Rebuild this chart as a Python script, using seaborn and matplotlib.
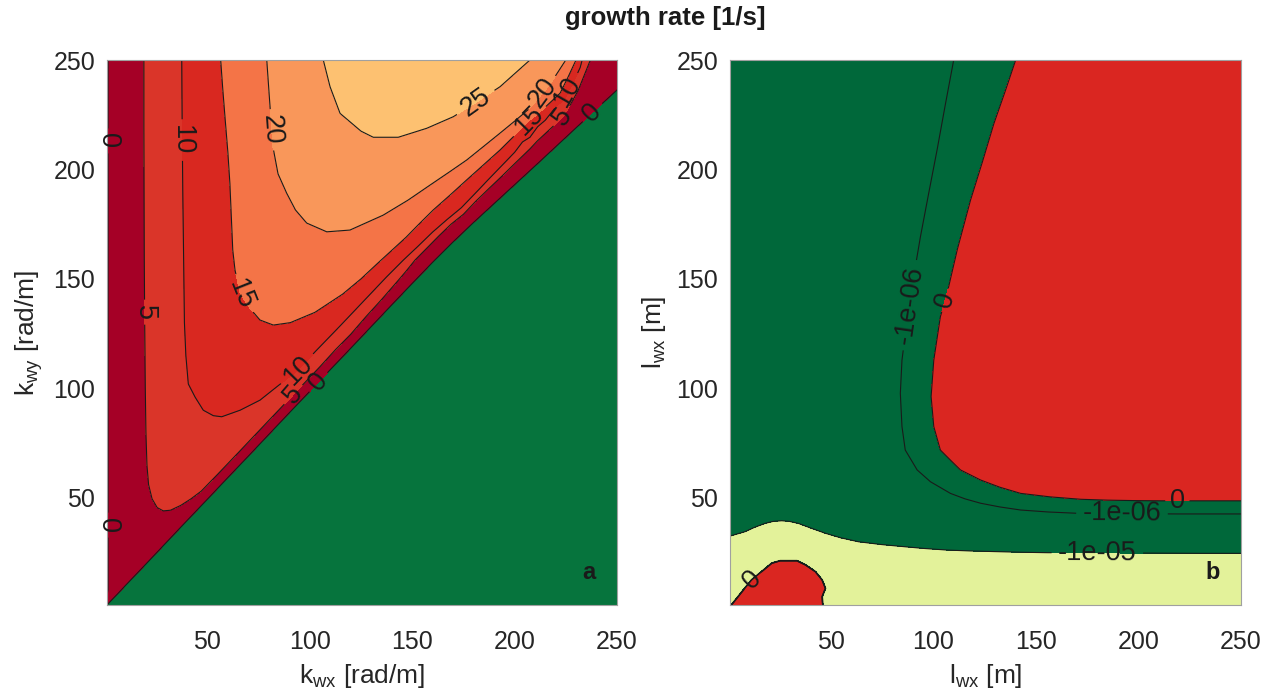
import numpy as np
import matplotlib
matplotlib.use("Agg")
import matplotlib.pyplot as plt
import matplotlib.tri as mtri
import seaborn as sns

# ---------------- panel a : growth rate [1/s] over (k_wx, k_wy) ----------------
# field samples: points lying on each labelled contour
a_levels = [0, 5, 10, 15, 20, 25]
a_colors = ["#06743d", "#a50026", "#da3529", "#d92820", "#f47447", "#f9975a", "#fdc171"]

a0_edge_kwx = [1.5] * 14
a0_edge_kwy = [3, 8, 25, 45, 65, 85, 105, 125, 145, 165, 185, 205, 225, 250]
a0_diag_kwx = [0, 3, 6, 10, 20, 30, 40, 50, 60, 70, 80, 90, 100, 110, 120, 130, 140, 150,
               160, 170, 180, 190, 200, 210, 220, 230, 240, 250, 265, 280]
a0_diag_kwy = [0.0, 3.0, 5.9, 9.9, 19.7, 29.6, 39.5, 49.3, 59.2, 69.0, 78.9, 88.8, 98.6,
               108.5, 118.3, 128.2, 138.1, 147.9, 157.6, 166.9, 175.8, 184.4, 193.0, 201.6,
               210.3, 219.0, 227.7, 236.3, 249.3, 262.3]
a5_kwx = [19.0, 19.0, 19.1, 19.2, 19.4, 19.7, 20.0, 20.5, 21.3, 23.0, 25.5, 28.5, 32.0,
          37.0, 42.0, 47.0, 55.0, 65.0, 72.5, 80.0, 86.0, 92.0, 98.5, 105.0, 112.5, 120.0,
          127.5, 135.0, 143.0, 147.0, 151.4, 157.0, 163.0, 169.0, 175.0, 181.0, 187.5,
          194.0, 200.0, 207.5, 211.0, 215.0, 219.5, 223.7, 227.5, 231.0, 234.0, 237.0]
a5_kwy = [250, 220, 190, 160, 130, 100, 80, 65, 56, 49.5, 45.5, 44.0, 44.3, 46.5, 49.5,
          53.0, 60.7, 70.5, 77.9, 85.3, 91.2, 97.1, 103.5, 109.9, 117.6, 124.7, 132.8,
          140.5, 149.1, 153.5, 158.6, 163.9, 169.6, 175.0, 179.5, 185.4, 191.3, 197.1,
          202.6, 209.4, 212.9, 216.4, 220.3, 224.0, 230.0, 236.0, 243.0, 250.0]
a10_kwx = [37.5, 37.7, 38.0, 38.4, 38.8, 39.5, 40.7, 44.0, 48.0, 52.9, 57.0, 66.0, 75.7,
           83.9, 94.4, 102.6, 115.0, 122.5, 130.0, 137.5, 145.7, 152.5, 160.0, 167.0,
           174.0, 180.5, 187.0, 193.5, 200.0, 207.5, 215.0, 220.5, 226.0, 233.0]
a10_kwy = [250, 220, 190, 160, 130, 115, 102, 96, 90, 87.5, 87.0, 90.0, 94.6, 100.7,
           108.4, 116.7, 128.7, 136.1, 143.5, 150.9, 158.6, 164.6, 171.4, 177.1, 182.5,
           188.8, 195.2, 201.5, 207.8, 214.7, 222.5, 229.0, 235.5, 250]
a15_kwx = [56.5, 57.5, 58.6, 60.0, 61.0, 62.4, 63.5, 66.0, 70.8, 75.7, 82.2, 90.5, 102.5,
           116.0, 125.0, 133.0, 140.0, 147.0, 153.5, 160.3, 168.5, 176.6, 184.7, 192.9,
           200.2, 207.5, 215.0, 222.2, 226.0, 230.0]
a15_kwy = [250, 237, 224, 208, 193.6, 163.2, 154.0, 143.5, 136.5, 131.2, 128.9, 130.0,
           134.7, 143.0, 150.0, 157.0, 163.0, 169.0, 175.2, 181.5, 188.3, 195.2, 202.0,
           208.9, 215.7, 222.6, 228.5, 234.8, 242.0, 250]
a20_kwx = [79.0, 80.5, 82.0, 84.5, 88.7, 93.0, 98.5, 108.3, 119.6, 135.8, 148.0, 160.2,
           168.4, 176.6, 184.7, 192.9, 200.2, 207.5, 212.0, 217.0, 225.0]
a20_kwy = [250, 230, 210.4, 198.0, 189.2, 181.5, 175.5, 171.5, 172.3, 179.1, 186.0, 193.8,
           199.0, 204.3, 210.4, 216.6, 222.2, 228.0, 233.0, 238.5, 250]
a25_kwx = [106.6, 109.9, 114.8, 119.6, 125.0, 131.0, 143.2, 157.1, 170.1, 181.0, 192.9, 207.5]
a25_kwy = [250, 237.8, 225.6, 221.8, 217.5, 214.7, 214.7, 218.8, 224.1, 230.5, 237.8, 250]
# a few samples inside bands (peak, top-right wedge, stable region, outside left edge)
a_peak_kwx, a_peak_kwy, a_peak_val = [140, 150, 175], [235, 250, 245], 27.0
a_wedge_kwx, a_wedge_kwy, a_wedge_val = [250], [250], 2.2
a_neg_kwx = [8, 18, 30, 60, 90, 120, 150, 180, 210, 240, 270, 10, 80, 160, 240, 275, 275,
             275, 290, 295]
a_neg_kwy = [1.5, 4, 5, 33, 62, 91, 120, 147, 173, 199, 225, -5, -5, -5, -5, -5, 80, 160,
             250, 265]
a_neg_val = -8.0
a_out_kwx = [-6, -6, -6, -6, -6, -6]
a_out_kwy = [-6, 40, 90, 140, 190, 255]
a_out_val = -2.0

# label anchor points (where the reference prints the contour labels)
a_label_xy = [(1.5, 213), (1.5, 37.5), (18.6, 134.8), (35.7, 213.4), (65.9, 142.6),
              (79.6, 218), (180.7, 231), (211.5, 236.3), (206.6, 222.6), (226, 235.5),
              (223.7, 224), (238, 226), (94.4, 108.4), (92, 97.1), (104.2, 102.8)]

# ---------------- panel b : growth rate [1/s] over (l_wx, l_wy) ----------------
b_levels = [-1e-05, -1e-06, 0]
b_colors = ["#e3f29a", "#00683a", "#00683a", "#da2621"]

b0_lwx = [144, 140.2, 135, 129.6, 124, 118.2, 111.7, 106.8, 103.5, 100.3, 99.0, 100.3,
          103.5, 108.4, 113.3, 123.1, 132.5, 142.6, 157, 171.9, 185, 198, 211, 224, 237,
          250.5, 258]
b0_lwy = [262, 250, 235.5, 221, 203.5, 186, 163.2, 143.4, 132.7, 112.9, 96.2, 82.5, 71.8,
          67.2, 62.7, 58.1, 54.8, 52.0, 50.4, 49.3, 48.9, 48.7, 48.6, 48.6, 48.6, 48.6, 48.6]
b6_lwx = [112.5, 110, 106, 101.9, 97.8, 93.8, 88.5, 84.8, 84.0, 84.8, 86.4, 92.2, 98.7,
          108.4, 115.5, 123.1, 132.5, 142.6, 156, 170.3, 183, 195, 207, 219.1, 231, 243, 258]
b6_lwy = [262, 250, 230, 208.9, 189, 169.3, 140, 112.9, 97.7, 82.5, 71.8, 62.7, 57.3, 52.0,
          49.5, 47.5, 45.8, 44.4, 43.5, 42.9, 42.75, 42.7, 42.65, 42.6, 42.6, 42.6, 42.6]
b5_lwx = [-5, 1, 8.3, 13, 18.1, 22, 26.2, 30, 34.3, 40, 47.4, 55, 63.6, 75, 86.4, 96,
          106.8, 118, 130, 143, 155.6, 168, 180, 192, 205, 218, 230, 244, 258]
b5_lwy = [30.5, 32.5, 34.5, 36.5, 38.3, 39.2, 39.5, 39.2, 38.3, 36.3, 33.8, 31.7, 29.9,
          28.6, 27.6, 26.8, 26.1, 25.7, 25.4, 25.1, 24.9, 24.85, 24.8, 24.75, 24.7, 24.65,
          24.6, 24.6, 24.6]
b_blob_lwx = [0.9, 1.8, 6.5, 11.6, 16.5, 21.4, 25.4, 33.6, 37.6, 42.5, 45.8, 47.4, 45.8, 46.1, 46.1]
b_blob_lwy = [0.0, 1.0, 6.5, 12.4, 16.2, 20.0, 21.1, 21.1, 19.3, 16.2, 12.4, 8.6, 4.8, 1.0, 0.0]
b_ring_lwx = [0.2, 1.2, 5.9, 11.0, 16.0, 21.0, 25.4, 33.8, 38.1, 43.1, 46.5, 48.2, 46.6, 46.9, 46.9]
b_ring_lwy = [0.6, 1.5, 7.1, 13.0, 16.8, 20.7, 21.9, 21.9, 19.9, 16.7, 12.7, 8.6, 4.8, 1.0, 0.0]
b_ring_val = -3e-05
b_in_lwx, b_in_lwy, b_in_val = [12, 25, 25, 38, 28, 38], [4, 0, 8, 6, 15, 14], 1e-05
b_light_lwx = [-3, -5, 0, 10, 25, 55, 60, 60, 80, 100, 120, 150, 200, 258, 258, 200]
b_light_lwy = [0, 12, 20, 26, 30, 18, 0, 10, 8, 8, 0, 8, 8, 8, 0, 0]
b_light_val = -3e-05
b_dark_lwx = [-5, -5, -5, -5, 40, 80, 30, 50, 25, 60]
b_dark_lwy = [45, 100, 180, 262, 262, 262, 160, 80, 55, 50]
b_dark_val = -5e-06
b_red_lwx = [150, 200, 258, 258, 258, 200, 160, 130, 200, 140, 125, 165, 230]
b_red_lwy = [262, 262, 262, 180, 100, 200, 130, 90, 90, 190, 120, 80, 75]
b_red_val = 1e-05

b_label_xy = [(88.5, 138), (107, 140), (192, 42.7), (219, 48.6), (180, 24.8), (12.3, 11.8)]


def stack(groups):
    xs, ys, zs = [], [], []
    for x, y, v in groups:
        xs += list(x)
        ys += list(y)
        zs += [v] * len(x)
    return np.array(xs, float), np.array(ys, float), np.array(zs, float)


sns.set_theme(style="white")
plt.rcParams["font.family"] = ["Liberation Sans", "DejaVu Sans"]
plt.rcParams["mathtext.default"] = "regular"

fig = plt.figure(figsize=(12.8, 6.98), dpi=100)
axa = fig.add_axes([107 / 1280, 1 - 605 / 698, 510 / 1280, 545 / 698])
axb = fig.add_axes([730 / 1280, 1 - 605 / 698, 511 / 1280, 545 / 698])

# panel a
xa, ya, za = stack([
    (a0_edge_kwx, a0_edge_kwy, 0), (a0_diag_kwx, a0_diag_kwy, 0),
    (a5_kwx, a5_kwy, 5), (a10_kwx, a10_kwy, 10), (a15_kwx, a15_kwy, 15),
    (a20_kwx, a20_kwy, 20), (a25_kwx, a25_kwy, 25),
    (a_peak_kwx, a_peak_kwy, a_peak_val), (a_wedge_kwx, a_wedge_kwy, a_wedge_val),
    (a_neg_kwx, a_neg_kwy, a_neg_val), (a_out_kwx, a_out_kwy, a_out_val)])
tria = mtri.Triangulation(xa, ya)
eps = 1e-9
axa.tricontourf(tria, za, levels=[-100] + [l - eps for l in a_levels] + [100],
                colors=a_colors)
csa = axa.tricontour(tria, za, levels=a_levels, colors="k", linewidths=0.8,
                     linestyles="solid")
la = axa.clabel(csa, manual=a_label_xy, inline=True, inline_spacing=4, fontsize=19.5, fmt="%g")

# panel b
xb, yb, zb = stack([
    (b0_lwx, b0_lwy, 0.0), (b6_lwx, b6_lwy, -1e-06), (b5_lwx, b5_lwy, -1e-05),
    (b_blob_lwx, b_blob_lwy, 0.0), (b_ring_lwx, b_ring_lwy, b_ring_val),
    (b_in_lwx, b_in_lwy, b_in_val), (b_light_lwx, b_light_lwy, b_light_val),
    (b_dark_lwx, b_dark_lwy, b_dark_val), (b_red_lwx, b_red_lwy, b_red_val)])
trib = mtri.Triangulation(xb, yb)
d = 1e-12
axb.tricontourf(trib, zb, levels=[-1] + [l - d for l in b_levels] + [1], colors=b_colors)
csb = axb.tricontour(trib, zb, levels=b_levels, colors="k", linewidths=0.8,
                     linestyles="solid")
lb = axb.clabel(csb, manual=b_label_xy, inline=True, inline_spacing=4, fontsize=19.5, fmt="%g")

for t in list(la) + list(lb):
    t.set_clip_on(False)

for ax, letter in [(axa, "a"), (axb, "b")]:
    ax.set_xlim(1, 250)
    ax.set_ylim(1, 250)
    ax.set_xticks([50, 100, 150, 200, 250])
    ax.set_yticks([50, 100, 150, 200, 250])
    ax.tick_params(direction="in", length=5, width=0.8, color="#a0a0a0",
                   labelcolor="#262626", labelsize=18)
    ax.tick_params(axis="x", pad=18)
    ax.tick_params(axis="y", pad=8.5)
    for s in ax.spines.values():
        s.set_color("#a0a0a0")
        s.set_linewidth(0.8)
    ax.text(0.945, 0.06, letter, transform=ax.transAxes, fontsize=17,
            fontweight="bold", ha="center", va="center", color="k")

axa.set_xlabel(r"$k_{wx}$ [rad/m]", fontsize=19, color="#262626", labelpad=6)
axa.set_ylabel(r"$k_{wy}$ [rad/m]", fontsize=19, color="#262626", labelpad=6)
axb.set_xlabel(r"$l_{wx}$ [m]", fontsize=19, color="#262626", labelpad=6)
axb.set_ylabel(r"$l_{wx}$ [m]", fontsize=19, color="#262626", labelpad=6)

fig.text(0.52, 0.974, "growth rate [1/s]", fontsize=18.5, fontweight="bold",
         ha="center", va="center", color="k")

fig.savefig("out.png", dpi=100)
